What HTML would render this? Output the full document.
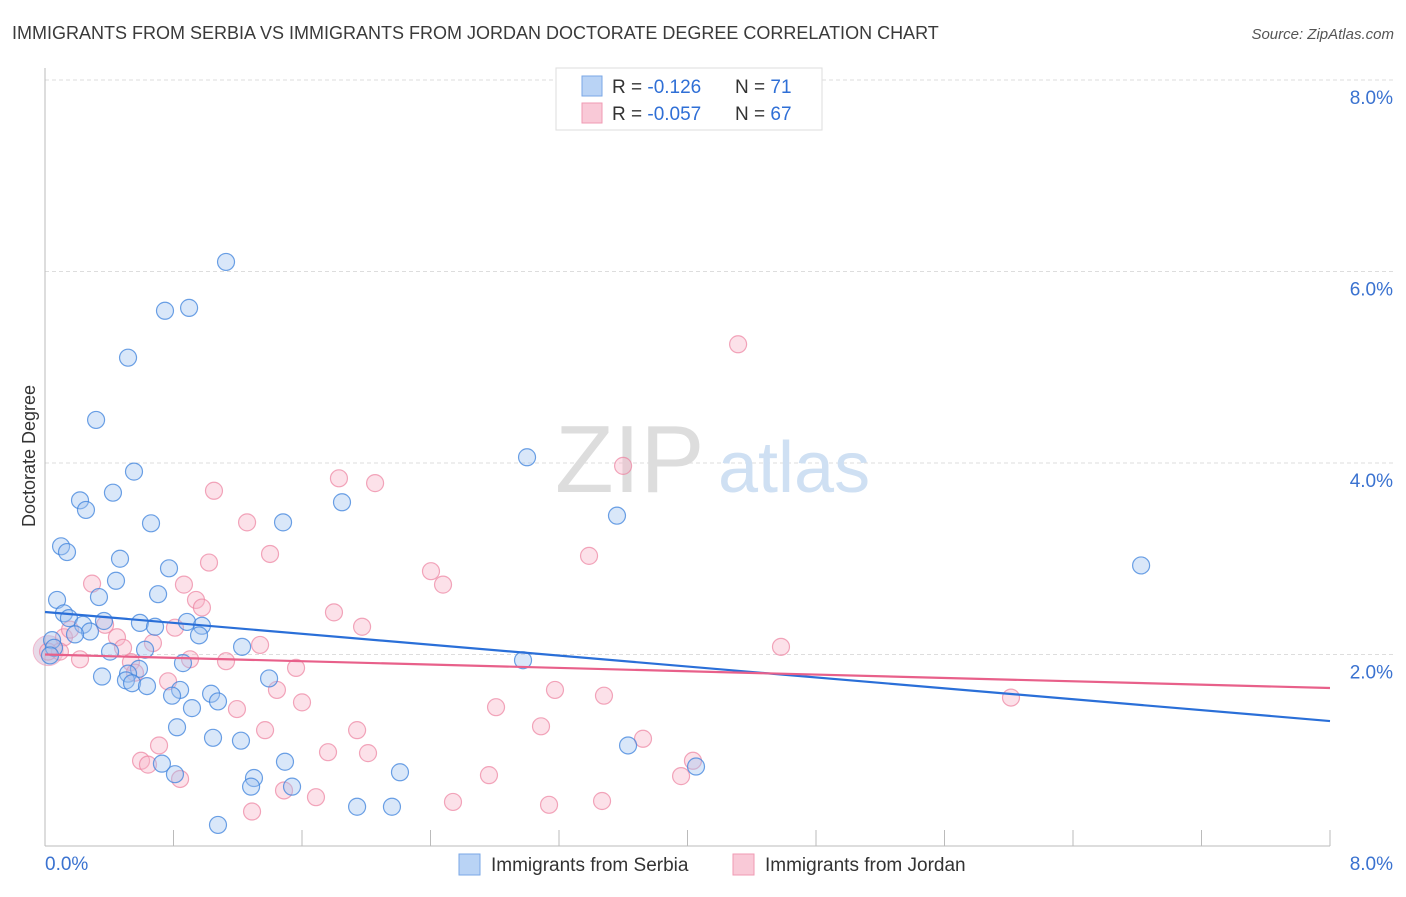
<!DOCTYPE html>
<html><head><meta charset="utf-8"><style>
body{margin:0;background:#fff;font-family:"Liberation Sans",sans-serif;}
svg text{font-family:"Liberation Sans",sans-serif;}
</style></head><body>
<svg id="chart" width="1406" height="892">
<text x="12" y="39" font-size="18" fill="#3a3a3a">IMMIGRANTS FROM SERBIA VS IMMIGRANTS FROM JORDAN DOCTORATE DEGREE CORRELATION CHART</text>
<text x="1394" y="39" font-size="15" fill="#555" font-style="italic" text-anchor="end">Source: ZipAtlas.com</text>
<text x="35" y="456" font-size="18" fill="#333" text-anchor="middle" transform="rotate(-90 35 456)">Doctorate Degree</text>
<g id="grid"></g><g id="axes"></g>
<text x="555" y="492" font-size="96" fill="#ddd" font-family="Liberation Serif">ZIP</text>
<text x="718" y="492" font-size="72" fill="#cfe0f3">atlas</text>
<g id="pts"></g><g id="trend"></g>
<g>
<rect x="556" y="68" width="266" height="62" fill="#fff" stroke="#ddd"/>
<rect x="582" y="76" width="20" height="20" fill="#b9d3f5" stroke="#7aa7e6"/>
<rect x="582" y="103" width="20" height="20" fill="#f9c9d7" stroke="#f09ab3"/>
<text x="612" y="93" font-size="19" fill="#333">R = <tspan fill="#2f6fd6">-0.126</tspan><tspan x="735">N = </tspan><tspan fill="#2f6fd6">71</tspan></text>
<text x="612" y="120" font-size="19" fill="#333">R = <tspan fill="#2f6fd6">-0.057</tspan><tspan x="735">N = </tspan><tspan fill="#2f6fd6">67</tspan></text>
</g>
<g>
<rect x="459" y="854" width="21" height="21" fill="#b9d3f5" stroke="#7aa7e6"/>
<text x="491" y="871" font-size="19" fill="#333">Immigrants from Serbia</text>
<rect x="733" y="854" width="21" height="21" fill="#f9c9d7" stroke="#f09ab3"/>
<text x="765" y="871" font-size="19" fill="#333">Immigrants from Jordan</text>
</g>
</svg>
<script>
const blueX=[1.127,0.747,0.897,0.517,0.318,3.001,0.554,0.218,0.255,0.423,0.660,1.482,1.849,3.561,6.824,0.100,0.137,0.467,0.772,0.442,0.075,0.336,0.704,0.118,0.149,0.367,0.591,0.685,0.884,0.977,0.959,0.237,0.280,0.187,0.044,0.056,0.031,1.227,0.623,0.405,0.859,2.976,0.585,0.517,0.355,0.504,0.542,0.635,0.841,0.791,1.034,1.077,1.395,0.915,0.822,1.046,1.220,1.494,0.728,0.809,1.301,1.283,1.538,2.210,3.630,4.053,1.943,2.160,1.077];
const blueY=[6.10,5.59,5.62,5.10,4.45,4.06,3.91,3.61,3.51,3.69,3.37,3.38,3.59,3.45,2.93,3.13,3.07,3.00,2.90,2.77,2.57,2.60,2.63,2.43,2.38,2.35,2.33,2.29,2.34,2.30,2.20,2.31,2.24,2.21,2.15,2.07,1.99,2.08,2.05,2.03,1.91,1.94,1.85,1.80,1.77,1.73,1.70,1.67,1.63,1.57,1.59,1.51,1.75,1.44,1.24,1.13,1.10,0.88,0.86,0.75,0.71,0.62,0.62,0.77,1.05,0.83,0.41,0.41,0.22];
const pinkX=[4.315,3.599,1.830,2.055,1.052,1.258,1.401,1.021,3.387,2.403,2.478,0.293,0.865,0.940,0.977,1.799,1.974,0.809,0.448,0.374,0.486,0.118,0.093,0.218,0.672,4.582,1.339,0.535,0.903,1.127,1.563,0.560,1.444,3.175,3.480,6.014,1.600,2.808,1.195,0.766,1.370,1.943,3.088,0.710,3.723,1.762,2.011,0.598,0.641,0.841,4.034,3.960,2.764,1.488,1.687,1.289,2.540,3.138,3.468,0.019,0.156];
const pinkY=[5.24,3.97,3.84,3.79,3.71,3.38,3.05,2.96,3.03,2.87,2.73,2.74,2.73,2.57,2.49,2.44,2.29,2.28,2.18,2.31,2.07,2.18,2.03,1.95,2.12,2.08,2.10,1.92,1.95,1.93,1.86,1.81,1.63,1.63,1.57,1.55,1.50,1.45,1.43,1.72,1.21,1.21,1.25,1.05,1.12,0.98,0.97,0.89,0.85,0.70,0.89,0.73,0.74,0.58,0.51,0.36,0.46,0.43,0.47,2.03,2.26];
const yTicks=[2,4,6,8];
const blueTrend=[2.444,1.305];
const pinkTrend=[2.00,1.65];
const NS='http://www.w3.org/2000/svg';
const X=v=>45+v/8*1285, Y=v=>846-v*95.75;
function mk(t,a,p){const e=document.createElementNS(NS,t);for(const k in a)e.setAttribute(k,a[k]);p.appendChild(e);return e;}
const grid=document.getElementById('grid'),axes=document.getElementById('axes'),pts=document.getElementById('pts'),tr=document.getElementById('trend');
yTicks.forEach(t=>{
 const l=mk('line',{x1:45,x2:1394,y1:Y(t),y2:Y(t),stroke:'#ddd','stroke-dasharray':'4,3'},grid);
 
 
 const tx=mk('text',{x:1393,y:Y(t)+24,'font-size':19,fill:'#3a72d0','text-anchor':'end'},grid);
 tx.textContent=t.toFixed(1)+'%';
 
 
});
const ya=mk('line',{x1:45,x2:45,y1:68,y2:846,stroke:'#bbb'},axes);


const xa=mk('line',{x1:45,x2:1330,y1:846,y2:846,stroke:'#bbb'},axes);


for(let i=0;i<=10;i++){const tk=mk('line',{x1:X(i*0.8),x2:X(i*0.8),y1:830,y2:846,stroke:'#bbb'},axes);
 
 }
[[0,'0.0%','start',45],[8,'8.0%','end',1393]].forEach(d=>{const t=mk('text',{x:d[3],y:870,'font-size':19,fill:'#3a72d0','text-anchor':d[2]},axes);t.textContent=d[1];
 
 });
const bc=mk('circle',{cx:X(0.02),cy:Y(2.04),r:15,fill:'rgba(190,150,190,0.35)',stroke:'rgba(240,150,180,0.6)'},pts);


pinkX.forEach((x,i)=>{const c=mk('circle',{cx:X(x),cy:Y(pinkY[i]),r:8.5,fill:'rgba(248,180,200,0.4)',stroke:'rgba(236,130,160,0.7)','stroke-width':1.2},pts);
 
 });
blueX.forEach((x,i)=>{const c=mk('circle',{cx:X(x),cy:Y(blueY[i]),r:8.5,fill:'rgba(160,195,240,0.4)',stroke:'rgba(60,130,220,0.75)','stroke-width':1.2},pts);
 
 });
const bl=mk('line',{x1:X(0),x2:X(8),y1:Y(blueTrend[0]),y2:Y(blueTrend[1]),stroke:'#2a6fd8','stroke-width':2.2},tr);


const pl=mk('line',{x1:X(0),x2:X(8),y1:Y(pinkTrend[0]),y2:Y(pinkTrend[1]),stroke:'#e8608a','stroke-width':2.2},tr);


</script>
</body></html>
